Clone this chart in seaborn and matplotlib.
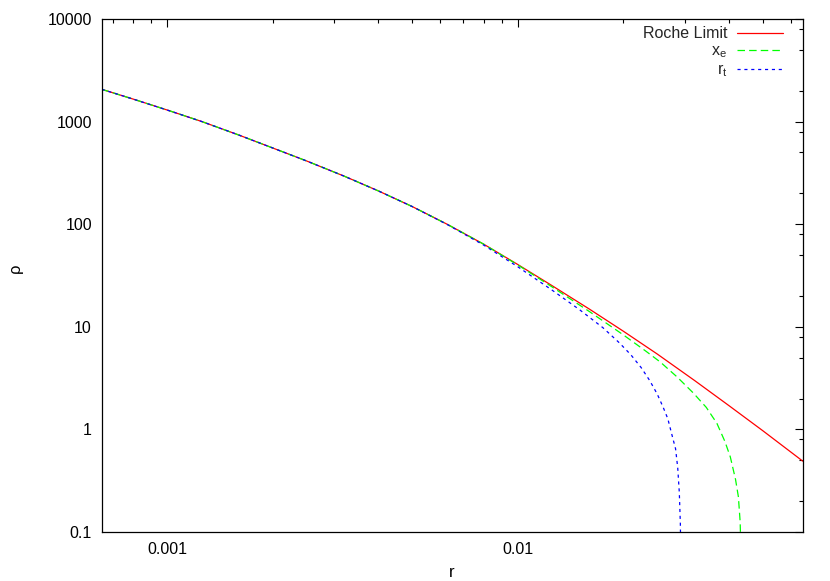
import numpy as np
import pandas as pd
import matplotlib
matplotlib.use("Agg")
import matplotlib.pyplot as plt
import matplotlib.ticker as mticker
import seaborn as sns

sns.set_theme(style="white")
plt.rcParams['font.family'] = ['Liberation Sans', 'DejaVu Sans']
plt.rcParams['mathtext.default'] = 'regular'
plt.rcParams['font.size'] = 11.5

# values (log-log)
r_roche = [0.00065, 0.0008, 0.001, 0.00125, 0.0016, 0.002, 0.0025, 0.0032, 0.004,
           0.005, 0.0063, 0.008, 0.01, 0.0125, 0.016, 0.02, 0.025, 0.032, 0.04,
           0.05, 0.063, 0.065]
rho_roche = [2065, 1656, 1296, 1006, 740, 553, 413, 293.7, 211.3,
             148.6, 99.6, 63.8, 40.5, 25.3, 14.9, 9.07, 5.43, 2.985, 1.71,
             0.972, 0.533, 0.491]

r_xe = [0.00065, 0.0008, 0.001, 0.00125, 0.0016, 0.002, 0.0025, 0.0032, 0.004,
        0.005, 0.0063, 0.008, 0.01, 0.0125, 0.016, 0.02, 0.0232, 0.0255, 0.0285,
        0.0317, 0.0345, 0.037, 0.039, 0.0404, 0.0418, 0.0426, 0.0431, 0.0434]
rho_xe = [2065, 1656, 1296, 1006, 740, 553, 413, 293.7, 211.3,
          148.6, 99.6, 63.8, 40.1, 24.6, 14.1, 8.35, 5.79, 4.54, 3.24,
          2.26, 1.64, 1.145, 0.762, 0.54, 0.327, 0.221, 0.126, 0.05]

r_rt = [0.00065, 0.0008, 0.001, 0.00125, 0.0016, 0.002, 0.0025, 0.0032, 0.004,
        0.005, 0.0063, 0.008, 0.01, 0.0125, 0.015, 0.0175, 0.0195, 0.021, 0.0225,
        0.0238, 0.025, 0.026, 0.0268, 0.0276, 0.0282, 0.0286, 0.0289, 0.0291, 0.0292]
rho_rt = [2065, 1656, 1296, 1006, 740, 553, 413, 293.7, 211.3,
          148.6, 99.1, 62.5, 38.5, 22.9, 14.7, 9.8, 6.97, 5.36, 4.0,
          2.99, 2.21, 1.64, 1.27, 0.857, 0.647, 0.423, 0.243, 0.12, 0.05]

labels = ["Roche Limit", "$x_e$", "$r_t$"]
colors = ["#ff0000", "#00ff00", "#0000ff"]
dashes = [None, (6, 3.3), (2.5, 3)]


def main():
    fig = plt.figure(figsize=(8.3, 5.81), dpi=100)
    ax = fig.add_axes([0.1225, 0.0843, 0.8446, 0.883])

    series = [(r_roche, rho_roche), (r_xe, rho_xe), (r_rt, rho_rt)]
    for (r, rho), lab, c, d in zip(series, labels, colors, dashes):
        df = pd.DataFrame({"r": r, "rho": rho})
        sns.lineplot(data=df, x="r", y="rho", ax=ax, color=c, lw=0.9,
                     label=lab, sort=False)
        if d is not None:
            ax.lines[-1].set_dashes(d)

    ax.set_xscale("log")
    ax.set_yscale("log")
    ax.set_xlim(0.00065, 0.065)
    ax.set_ylim(0.1, 10000)

    ax.xaxis.set_major_locator(mticker.FixedLocator([0.001, 0.01]))
    ax.xaxis.set_major_formatter(mticker.FixedFormatter(["0.001", "0.01"]))
    ax.xaxis.set_minor_locator(mticker.LogLocator(base=10, subs=np.arange(2, 10), numticks=20))
    ax.xaxis.set_minor_formatter(mticker.NullFormatter())
    yt = [0.1, 1, 10, 100, 1000, 10000]
    ax.yaxis.set_major_locator(mticker.FixedLocator(yt))
    ax.yaxis.set_major_formatter(mticker.FixedFormatter(["0.1", "1", "10", "100", "1000", "10000"]))
    ax.yaxis.set_minor_locator(mticker.LogLocator(base=10, subs=[2, 5, 8], numticks=20))
    ax.yaxis.set_minor_formatter(mticker.NullFormatter())

    ax.tick_params(which="both", direction="in", top=True, right=True,
                   color="black", width=0.8, labelsize=11.5, labelcolor="black")
    ax.tick_params(which="major", length=5.5, pad=7)
    ax.tick_params(which="minor", length=3)
    for s in ax.spines.values():
        s.set_color("black")
        s.set_linewidth(0.9)
    ax.grid(False)

    ax.set_xlabel("r", labelpad=6, color="black")
    ax.set_ylabel("ρ", labelpad=18, color="black")
    ax.yaxis.set_label_coords(-0.112, 0.515)

    ax.legend(loc="upper right", bbox_to_anchor=(0.972, 0.986), frameon=False,
              markerfirst=False, handlelength=2.9, handletextpad=0.6,
              labelspacing=0.15, borderpad=0, borderaxespad=0, fontsize=11.5)

    fig.savefig("out.png", dpi=100)


if __name__ == '__main__':
    main()
